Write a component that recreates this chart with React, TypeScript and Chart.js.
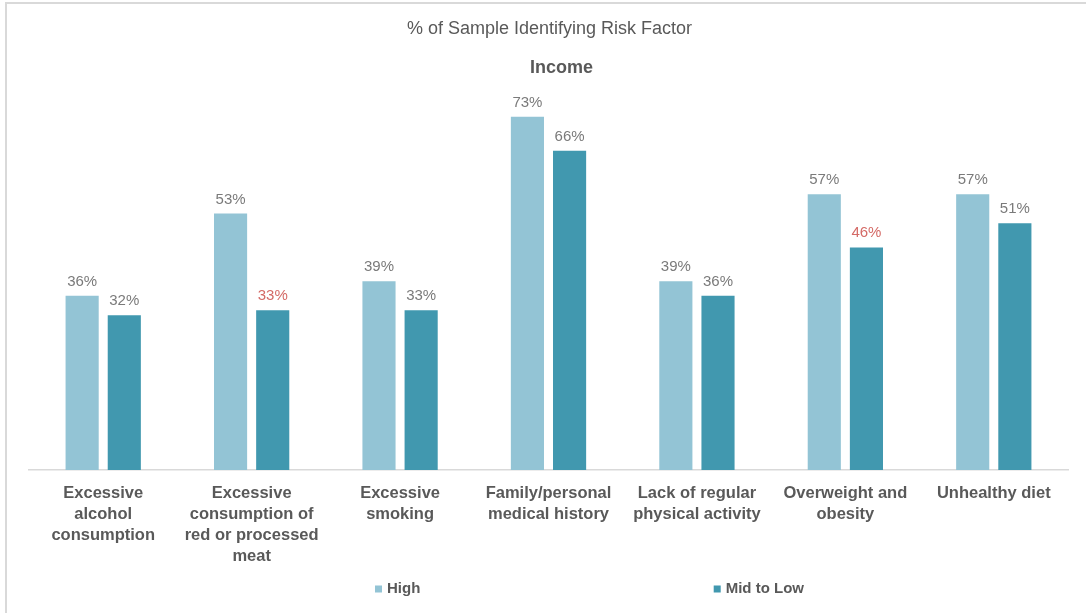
import React, { useEffect, useRef } from "react";
import { Chart, registerables } from "chart.js";

Chart.register(...registerables);

const categories: string[][] = [
  ["Excessive", "alcohol", "consumption"],
  ["Excessive", "consumption of", "red or processed", "meat"],
  ["Excessive", "smoking"],
  ["Family/personal", "medical history"],
  ["Lack of regular", "physical activity"],
  ["Overweight and", "obesity"],
  ["Unhealthy diet"],
];
const seriesNames = ["High", "Mid to Low"];
const highValues = [36, 53, 39, 73, 39, 57, 57];
const midLowValues = [32, 33, 33, 66, 36, 46, 51];
// label colour flags: true = highlighted (red)
const highHighlight = [false, false, false, false, false, false, false];
const midLowHighlight = [false, true, false, false, false, true, false];
const titleText = "% of Sample Identifying Risk Factor";
const subtitleText = "Income";

const LIGHT = "#93C4D5";
const DARK = "#4198AF";
const TEXT = "#595959";
const LABEL = "#7a7a7a";
const RED = "#D46A66";
const FONT = "'Liberation Sans', Arial, sans-serif";

const overlayPlugin = {
  id: "overlay",
  afterDatasetsDraw(chart: any) {
    const ctx = chart.ctx;
    const ca = chart.chartArea;
    const cx = (ca.left + ca.right) / 2;
    ctx.save();
    // titles
    ctx.textAlign = "center";
    ctx.textBaseline = "middle";
    ctx.fillStyle = TEXT;
    ctx.font = `18px ${FONT}`;
    ctx.fillText(titleText, cx + 1, 25);
    ctx.font = `bold 18px ${FONT}`;
    ctx.fillText(subtitleText, cx + 13, 64);
    // data labels
    ctx.font = `15px ${FONT}`;
    ctx.textBaseline = "alphabetic";
    const flags = [highHighlight, midLowHighlight];
    chart.data.datasets.forEach((ds: any, di: number) => {
      const meta = chart.getDatasetMeta(di);
      meta.data.forEach((bar: any, i: number) => {
        ctx.fillStyle = flags[di][i] ? RED : LABEL;
        ctx.fillText(ds.data[i] + "%", bar.x, bar.y - 10);
      });
    });
    // legend
    const fracs = [0.333, 0.659];
    const colors = [LIGHT, DARK];
    ctx.font = `bold 15px ${FONT}`;
    ctx.textAlign = "left";
    ctx.textBaseline = "middle";
    const ly = 585;
    seriesNames.forEach((name, i) => {
      const x = ca.left + fracs[i] * (ca.right - ca.left);
      ctx.fillStyle = colors[i];
      ctx.fillRect(x, ly - 3.5, 7, 7);
      ctx.fillStyle = TEXT;
      ctx.fillText(name, x + 12, ly);
    });
    ctx.restore();
  },
};

export default function App() {
  const ref = useRef<HTMLCanvasElement | null>(null);
  useEffect(() => {
    document.body.style.margin = "0";
    document.body.style.overflow = "hidden";
    if (!ref.current) return;
    const chart = new Chart(ref.current, {
      type: "bar",
      data: {
        labels: categories,
        datasets: [
          {
            label: seriesNames[0],
            data: highValues,
            backgroundColor: LIGHT,
            categoryPercentage: 0.568,
            barPercentage: 0.786,
          },
          {
            label: seriesNames[1],
            data: midLowValues,
            backgroundColor: DARK,
            categoryPercentage: 0.568,
            barPercentage: 0.786,
          },
        ],
      },
      options: {
        responsive: false,
        animation: false,
        layout: { padding: { left: 22, right: 18, top: 79, bottom: 0 } },
        plugins: {
          legend: { display: false },
          title: { display: false },
          tooltip: { enabled: false },
        },
        scales: {
          x: {
            grid: { display: false },
            border: { display: true, color: "#d9d9d9", width: 1.5 },
            ticks: {
              color: TEXT,
              padding: 5,
              maxRotation: 0,
              autoSkip: false,
              font: { family: FONT, size: 16.5, weight: "bold", lineHeight: 1.27 },
            },
            afterFit: (s: any) => {
              s.height = 143;
            },
          },
          y: {
            display: false,
            min: 0,
            max: 80,
          },
        },
      },
      plugins: [overlayPlugin],
    });
    return () => chart.destroy();
  }, []);
  return (
    <div
      style={{
        position: "absolute",
        left: 5,
        top: 2,
        width: 1081,
        height: 611,
        borderTop: "2px solid #d9d9d9",
        borderLeft: "2px solid #d9d9d9",
        boxSizing: "border-box",
        background: "#fff",
      }}
    >
      <canvas ref={ref} width={1079} height={609} style={{ display: "block" }} />
    </div>
  );
}
